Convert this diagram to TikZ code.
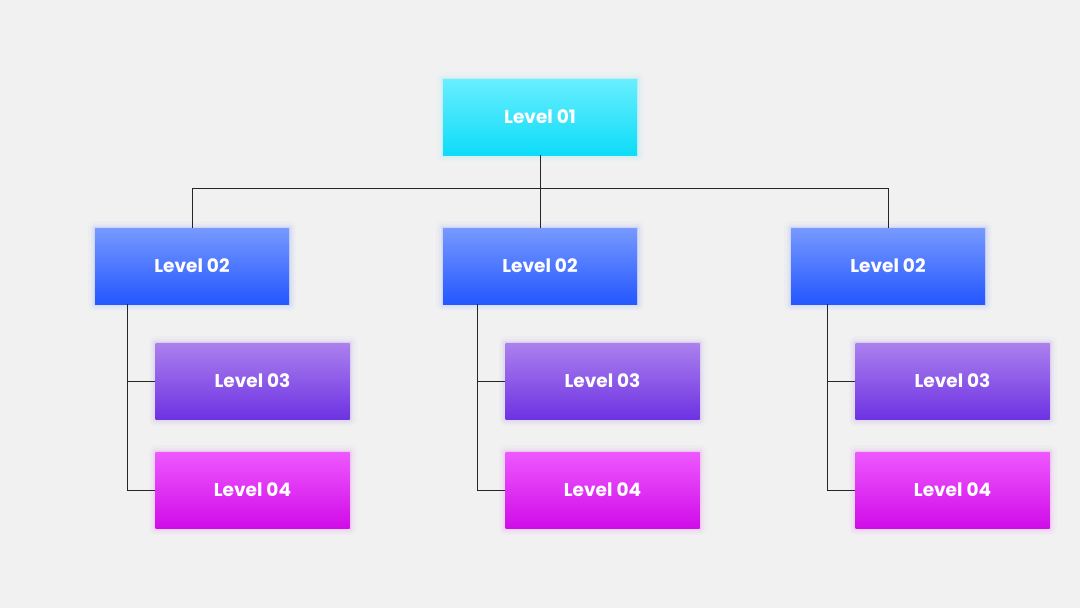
\documentclass[tikz,border=0pt]{standalone}
\usepackage{fontspec}
\setmainfont{Poppins}
\definecolor{bg}{HTML}{F1F1F1}
\definecolor{aT}{HTML}{68EEFF}
\definecolor{aB}{HTML}{0EDCF8}
\definecolor{bT}{HTML}{7799FF}
\definecolor{bB}{HTML}{2457FF}
\definecolor{cT}{HTML}{AB80EE}
\definecolor{cB}{HTML}{6E33E2}
\definecolor{dT}{HTML}{EE58FF}
\definecolor{dB}{HTML}{D00CE8}
\begin{document}
\begin{tikzpicture}[x=1pt,y=-1pt,
  glow/.style={preaction={draw=#1,draw opacity=0.025,line width=14pt,shade=false,fill=none,line join=round},
               preaction={draw=#1,draw opacity=0.035,line width=9pt,shade=false,fill=none,line join=round},
               preaction={draw=#1,draw opacity=0.05,line width=5pt,shade=false,fill=none,line join=round},
               preaction={draw=#1,draw opacity=0.07,line width=2pt,shade=false,fill=none}},
  box/.style={minimum width=194pt,minimum height=76pt,inner sep=0pt,
    text=white,font=\fontsize{18.5}{22}\selectfont\bfseries},
  lvA/.style={box,glow=aB,top color=aT,bottom color=aB},
  lvB/.style={box,glow=bB,top color=bT,bottom color=bB},
  lvC/.style={box,glow=cB,top color=cT,bottom color=cB},
  lvD/.style={box,glow=dB,top color=dT,bottom color=dB},
  link/.style={draw=black!85,line width=0.9pt}]
\fill[bg] (0,0) rectangle (1080,608);
\useasboundingbox (0,0) rectangle (1080,608);
\coordinate (bus) at (540,188);
\node[lvA] (l1) at (540,117) {Level 01};
\foreach \i/\x/\lx/\cx in {1/192/127/252.5, 2/540/477/602.5, 3/888/827/952.5}{
  \node[lvB] (b\i) at (\x,266) {Level 02};
  \node[lvC] (c\i) at (\cx,381) {Level 03};
  \node[lvD] (d\i) at (\cx,490) {Level 04};
  \coordinate (v\i) at (\lx,304);
}
\draw[link] (l1.south) -- (bus);
\draw[link] (b1.north) -- (b1.north |- bus) -- (b3.north |- bus) -- (b3.north);
\draw[link] (bus) -- (b2.north);
\foreach \i in {1,2,3}{
  \draw[link] (v\i) |- (d\i.west);
  \draw[link] (v\i |- c\i.west) -- (c\i.west);
}
\end{tikzpicture}
\end{document}
